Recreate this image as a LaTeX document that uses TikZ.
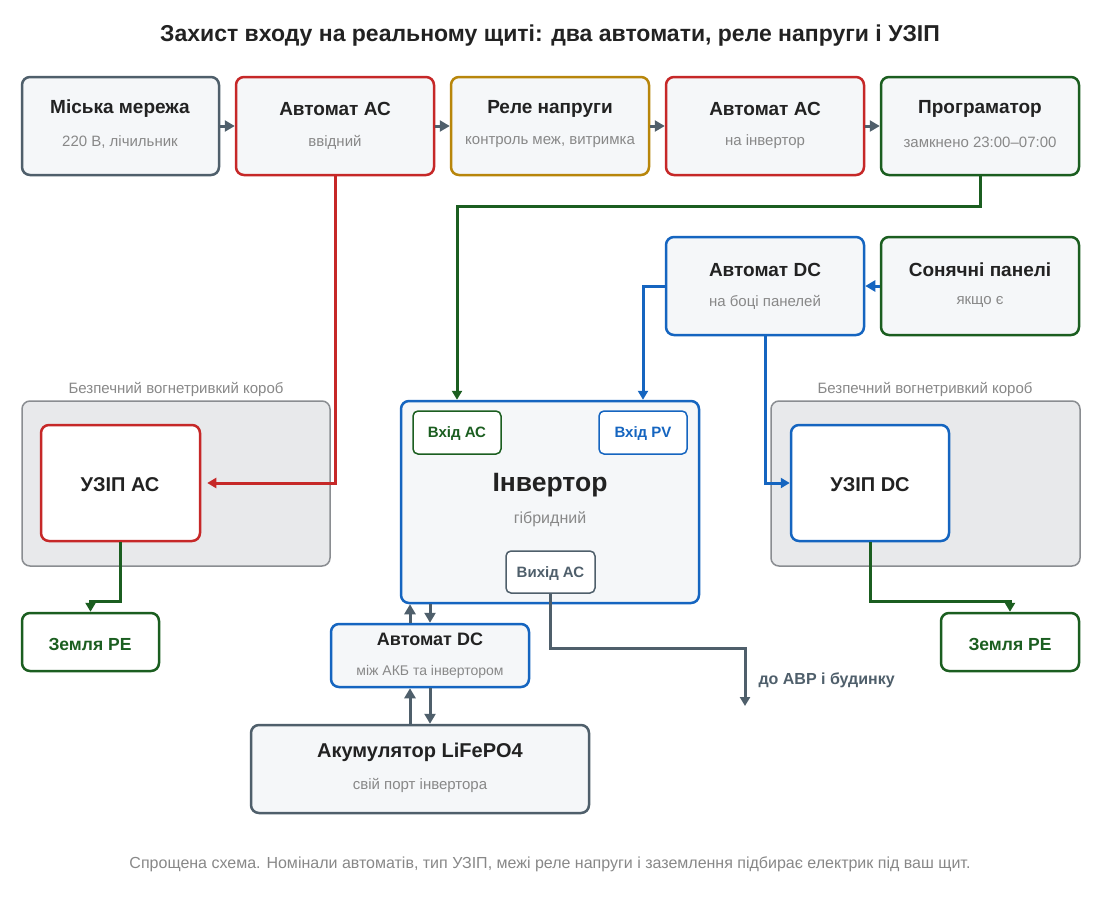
\documentclass[tikz,border=0pt]{standalone}
\usepackage{fontspec}
\setmainfont{Liberation Sans}
\usetikzlibrary{arrows.meta}
\definecolor{slate}{HTML}{4F5F6B}
\definecolor{cred}{HTML}{C62828}
\definecolor{cgold}{HTML}{B8860B}
\definecolor{cgreen}{HTML}{1B5E20}
\definecolor{cblue}{HTML}{1565C0}
\definecolor{bgl}{HTML}{F5F7F9}
\definecolor{txt}{HTML}{222222}
\definecolor{subc}{HTML}{888888}
\definecolor{boxg}{HTML}{E8E9EB}
\definecolor{boxb}{HTML}{8A8D91}
\tikzset{
  panel/.style={rounded corners=8pt, line width=2.5pt, fill=bgl, inner sep=0pt},
  wpanel/.style={rounded corners=8pt, line width=2.5pt, fill=white, inner sep=0pt},
  port/.style={rounded corners=5pt, line width=1.5pt, fill=white, inner sep=0pt},
  fire/.style={rounded corners=8pt, line width=1.5pt, draw=boxb, fill=boxg, inner sep=0pt},
  ttl/.style={font=\bfseries\fontsize{19}{23}\selectfont, text=txt, yshift=-2pt},
  subt/.style={font=\fontsize{15}{18}\selectfont, text=subc, yshift=-2pt},
  lbl/.style={yshift=-2pt},
  conn/.style={line width=3pt, -{Triangle[length=9pt,width=10pt]}},
  shortc/.style={line width=3pt, -{Triangle[length=10pt,width=11pt]}}
}
\newcommand\mybox[7]{\node[#7,draw=#6,minimum width={#4-#2},minimum height={#5-#3}] (#1) at ({(#2+#4)/2},{(#3+#5)/2}) {};}
\begin{document}
\begin{tikzpicture}[x=1pt,y=-1pt]
\useasboundingbox[fill=white] (0,0) rectangle (1100,900);

\node[lbl, font=\bfseries\fontsize{23}{27}\selectfont, text=txt] (title) at (550,34) {Захист входу на реальному щиті: два автомати, реле напруги і УЗІП};

% fireproof boxes
\mybox{fl}{22}{401}{330}{566}{boxb}{fire}
\node[subt] (fllab) at (176,387) {Безпечний вогнетривкий короб};
\mybox{fr}{771}{401}{1080}{566}{boxb}{fire}
\node[subt] (frlab) at (925,387) {Безпечний вогнетривкий короб};

% top row
\mybox{b1}{22}{77}{219}{175}{slate}{panel}
\node[ttl] (b1t) at (120,107) {Міська мережа};
\node[subt] (b1s) at (120,140) {220 В, лічильник};
\mybox{b2}{236}{77}{434}{175}{cred}{panel}
\node[ttl] (b2t) at (335,107) {Автомат АС};
\node[subt] (b2s) at (335,140) {ввідний};
\mybox{b3}{451}{77}{649}{175}{cgold}{panel}
\node[ttl] (b3t) at (550,107) {Реле напруги};
\node[subt] (b3s) at (550,140) {контроль меж, витримка};
\mybox{b4}{666}{77}{864}{175}{cred}{panel}
\node[ttl] (b4t) at (765,107) {Автомат АС};
\node[subt] (b4s) at (765,140) {на інвертор};
\mybox{b5}{881}{77}{1079}{175}{cgreen}{panel}
\node[ttl] (b5t) at (980,107) {Програматор};
\node[subt] (b5s) at (980,140) {замкнено 23:00–07:00};

% DC automat and solar
\mybox{dc1}{666}{237}{864}{335}{cblue}{panel}
\node[ttl] (dc1t) at (765,268) {Автомат DC};
\node[subt] (dc1s) at (765,300) {на боці панелей};
\mybox{sol}{881}{237}{1079}{335}{cgreen}{panel}
\node[ttl] (solt) at (980,268) {Сонячні панелі};
\node[subt] (sols) at (980,300) {якщо є};

% SPDs
\mybox{uac}{41}{425}{200}{541}{cred}{wpanel}
\node[lbl, font=\bfseries\fontsize{20}{24}\selectfont, text=txt] (uact) at (120,483) {УЗІП АС};
\mybox{udc}{791}{425}{949}{541}{cblue}{wpanel}
\node[lbl, font=\bfseries\fontsize{20}{24}\selectfont, text=txt] (udct) at (870,483) {УЗІП DC};

% grounds
\mybox{gl}{22}{613}{159}{671}{cgreen}{wpanel}
\node[lbl, font=\bfseries\fontsize{17.5}{21}\selectfont, text=cgreen] (glt) at (90,642) {Земля РЕ};
\mybox{gr}{941}{613}{1079}{671}{cgreen}{wpanel}
\node[lbl, font=\bfseries\fontsize{17.5}{21}\selectfont, text=cgreen] (grt) at (1010,642) {Земля РЕ};

% inverter
\mybox{inv}{401}{401}{699}{603}{cblue}{panel}
\node[lbl, font=\bfseries\fontsize{26.5}{31}\selectfont, text=txt] (invt) at (550,483) {Інвертор};
\node[lbl, font=\fontsize{16}{19}\selectfont, text=subc] (invs) at (550,517) {гібридний};
\mybox{acin}{413}{411}{501}{454}{cgreen}{port}
\node[lbl, font=\bfseries\fontsize{15}{18}\selectfont, text=cgreen] (acint) at (457,432) {Вхід АС};
\mybox{pvin}{599}{411}{687}{454}{cblue}{port}
\node[lbl, font=\bfseries\fontsize{15}{18}\selectfont, text=cblue] (pvint) at (643,432) {Вхід PV};
\mybox{acout}{506}{551}{595}{593}{slate}{port}
\node[lbl, font=\bfseries\fontsize{15}{18}\selectfont, text=slate] (acoutt) at (550.5,572) {Вихід АС};

% battery DC automat and battery
\mybox{dc2}{331}{624}{529}{687}{cblue}{panel}
\node[lbl, font=\bfseries\fontsize{18}{21}\selectfont, text=txt] (dc2t) at (430,637) {Автомат DC};
\node[lbl, font=\fontsize{14}{17}\selectfont, text=subc] (dc2s) at (430,670) {між АКБ та інвертором};
\mybox{bat}{251}{725}{589}{813}{slate}{panel}
\node[lbl, font=\bfseries\fontsize{20}{24}\selectfont, text=txt] (batt) at (420,750) {Акумулятор LiFePO4};
\node[subt] (bats) at (420,783) {свій порт інвертора};

% connectors top row
\draw[shortc, slate] (b1.east) -- (b2.west);
\draw[shortc, slate] (b2.east) -- (b3.west);
\draw[shortc, slate] (b3.east) -- (b4.west);
\draw[shortc, slate] (b4.east) -- (b5.west);

% red to SPD AC
\draw[conn, cred] (b2.south) |- ([xshift=6pt]uac.east);
% programmer to AC in
\draw[conn, cgreen] (b5.south) -- ++(0,30) -| (acin.north |- inv.north);
% solar to DC automat
\draw[shortc, cblue] (sol.west) -- (dc1.east);
% DC automat to PV in
\draw[conn, cblue] (dc1.west) -| (pvin.north |- inv.north);
% DC automat to SPD DC
\draw[conn, cblue] (dc1.south) |- (udc.west);
% grounds
\draw[conn, cgreen] (uac.south) -- ++(0,59) -| (gl.north);
\draw[conn, cgreen] (udc.south) -- ++(0,59) -| (gr.north);

% battery path
\draw[shortc, slate] ([xshift=-20pt]dc2.north) -- ([xshift=-20pt]dc2.north |- inv.south);
\draw[shortc, slate] (dc2.north |- inv.south) -- (dc2.north);
\draw[shortc, slate] ([xshift=-10pt]bat.north) -- ([xshift=-10pt]bat.north |- dc2.south);
\draw[shortc, slate] ([xshift=10pt]bat.north |- dc2.south) -- ([xshift=10pt]bat.north);

% AC out
\coordinate (abr) at (745,706);
\draw[conn, slate] (acout.south) -- ++(0,55) -| (abr);
\node[lbl, anchor=west, font=\bfseries\fontsize{16}{19}\selectfont, text=slate] (abrt) at (755,678) {до АВР і будинку};

\node[lbl, font=\fontsize{16}{19}\selectfont, text=subc] (foot) at (550,862) {Спрощена схема. Номінали автоматів, тип УЗІП, межі реле напруги і заземлення підбирає електрик під ваш щит.};
\end{tikzpicture}
\end{document}
